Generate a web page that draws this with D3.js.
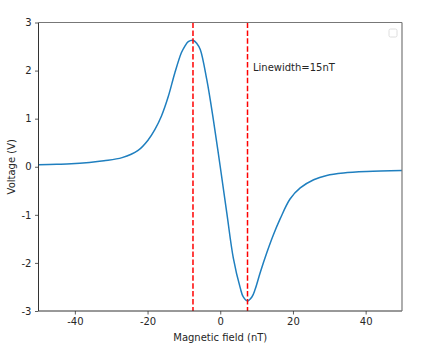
<!DOCTYPE html>
<html>
<head>
<meta charset="utf-8">
<script src="https://cdn.jsdelivr.net/npm/d3@7"></script>
<style>
  html, body { margin: 0; padding: 0; background: #fff; }
  svg { display: block; }
  text { font-family: "DejaVu Sans", sans-serif; fill: #262626; }
</style>
</head>
<body>
<svg id="chart" width="423" height="356"></svg>
<script>
// ---- data ----
const fieldNT = [-50, -45, -41, -36, -32, -27, -22.6, -19.8, -18, -16.2, -14.3, -12.5, -10.7, -9.8, -8.8, -7.5, -6.4, -5.5, -3.7, -1.9, 0, 1.8, 3.6, 5.5, 6.3, 7.5, 8.7, 9.6, 11, 12.8, 14.6, 16.5, 19.2, 22, 25.7, 29.3, 33.9, 40.3, 50];
const voltage = [0.04, 0.05, 0.06, 0.09, 0.125, 0.19, 0.34, 0.56, 0.77, 1.05, 1.46, 1.95, 2.37, 2.50, 2.60, 2.63, 2.56, 2.44, 1.81, 0.98, 0.0, -0.96, -1.9, -2.52, -2.70, -2.79, -2.71, -2.55, -2.20, -1.79, -1.42, -1.08, -0.67, -0.44, -0.27, -0.18, -0.13, -0.10, -0.08];
const markerLines = [-7.5, 7.5];
const xTicks = [-40, -20, 0, 20, 40];
const yTicks = [-3, -2, -1, 0, 1, 2, 3];
const annotation = { x: 9, y: 2.0, text: "Linewidth=15nT" };
const xLabel = "Magnetic field (nT)";
const yLabel = "Voltage (V)";

// ---- layout ----
const svg = d3.select("#chart");
const L = 38.5, R = 402, T = 22.5, B = 311;
const x = d3.scaleLinear().domain([-50, 50]).range([L, R]);
const y = d3.scaleLinear().domain([-3, 3]).range([B, T]);

const pts = fieldNT.map((v, i) => [v, voltage[i]]);

svg.append("defs").append("clipPath").attr("id", "clip")
  .append("rect").attr("x", L).attr("y", T).attr("width", R - L).attr("height", B - T);

const plot = svg.append("g").attr("clip-path", "url(#clip)");

plot.append("path")
  .datum(pts)
  .attr("fill", "none")
  .attr("stroke", "#1f7fbf")
  .attr("stroke-width", 1.5)
  .attr("stroke-linejoin", "round")
  .attr("d", d3.line().x(d => x(d[0])).y(d => y(d[1])).curve(d3.curveCatmullRom.alpha(0.5)));

plot.selectAll("line.vl").data(markerLines).enter().append("line")
  .attr("class", "vl")
  .attr("x1", d => x(d)).attr("x2", d => x(d))
  .attr("y1", T).attr("y2", B)
  .attr("stroke", "#ff0000")
  .attr("stroke-width", 1.5)
  .attr("stroke-dasharray", "5.5,2.4");

// annotation
svg.append("text")
  .attr("x", x(annotation.x)).attr("y", y(annotation.y))
  .attr("font-size", 10)
  .text(annotation.text);

// axes
const xAxis = d3.axisBottom(x).tickValues(xTicks).tickSize(3.5).tickPadding(3.5)
  .tickFormat(d => String(d));
const yAxis = d3.axisLeft(y).tickValues(yTicks).tickSize(3.5).tickPadding(3.5)
  .tickFormat(d => String(d));

const gx = svg.append("g").attr("transform", `translate(0,${B})`).call(xAxis);
const gy = svg.append("g").attr("transform", `translate(${L},0)`).call(yAxis);
[gx, gy].forEach(g => {
  g.select(".domain").remove();
  g.selectAll(".tick line").attr("stroke", "#333").attr("stroke-width", 0.8);
  g.selectAll(".tick text").attr("font-size", 10).attr("font-family", "DejaVu Sans, sans-serif").attr("fill", "#262626");
});

// spines
const sp = svg.append("g").attr("fill", "none");
sp.append("line").attr("x1", L).attr("x2", L).attr("y1", T).attr("y2", B).attr("stroke", "#333").attr("stroke-width", 1);
sp.append("line").attr("x1", L).attr("x2", R).attr("y1", B).attr("y2", B).attr("stroke", "#333").attr("stroke-width", 1);
sp.append("line").attr("x1", L).attr("x2", R).attr("y1", T).attr("y2", T).attr("stroke", "#777").attr("stroke-width", 1.2);
sp.append("line").attr("x1", R).attr("x2", R).attr("y1", T).attr("y2", B).attr("stroke", "#777").attr("stroke-width", 1.2);

// empty legend frame
svg.append("rect")
  .attr("x", 389).attr("y", 29).attr("width", 8).attr("height", 8)
  .attr("rx", 1.5).attr("fill", "#fff").attr("stroke", "#d6d6d6").attr("stroke-width", 0.8);

// axis labels
svg.append("text")
  .attr("x", (L + R) / 2).attr("y", 341)
  .attr("text-anchor", "middle").attr("font-size", 10)
  .text(xLabel);
svg.append("text")
  .attr("transform", `translate(15,${(T + B) / 2}) rotate(-90)`)
  .attr("text-anchor", "middle").attr("font-size", 10)
  .text(yLabel);
</script>
</body>
</html>
